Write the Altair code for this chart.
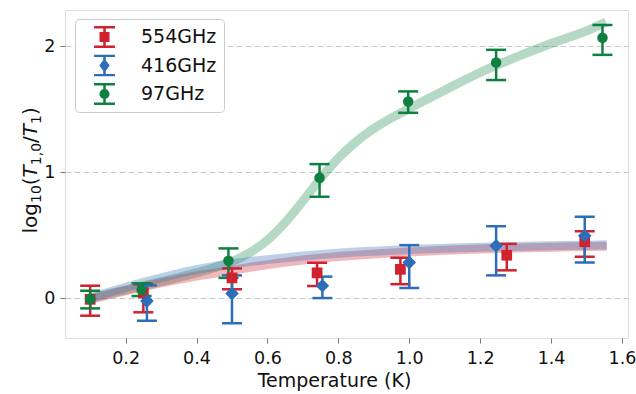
import altair as alt
import pandas as pd

# ---- measured points: temperature (K), log10(T1,0/T1), lower / upper error bounds
t_554 = [0.10, 0.25, 0.50, 0.74, 0.975, 1.275, 1.495]
y_554 = [-0.01, 0.04, 0.16, 0.20, 0.228, 0.34, 0.447]
lo_554 = [-0.14, -0.113, 0.07, 0.095, 0.11, 0.22, 0.328]
hi_554 = [0.098, 0.11, 0.235, 0.28, 0.32, 0.43, 0.53]

t_416 = [0.26, 0.50, 0.755, 1.00, 1.245, 1.495]
y_416 = [-0.024, 0.037, 0.098, 0.283, 0.415, 0.495]
lo_416 = [-0.18, -0.20, 0.00, 0.08, 0.18, 0.283]
hi_416 = [0.10, 0.18, 0.17, 0.42, 0.57, 0.645]

t_97 = [0.10, 0.245, 0.49, 0.747, 0.997, 1.245, 1.545]
y_97 = [-0.008, 0.063, 0.296, 0.955, 1.56, 1.87, 2.066]
lo_97 = [-0.082, 0.016, 0.16, 0.804, 1.47, 1.73, 1.93]
hi_97 = [0.058, 0.117, 0.394, 1.063, 1.64, 1.97, 2.167]

# ---- model curves
fit_t = [0.10, 0.20, 0.30, 0.40, 0.50, 0.60, 0.70, 0.80, 0.90, 1.00,
         1.10, 1.20, 1.30, 1.40, 1.50, 1.557]
fit_554 = [-0.010, 0.058, 0.120, 0.175, 0.220, 0.265, 0.302, 0.330, 0.350, 0.366,
           0.379, 0.389, 0.397, 0.404, 0.409, 0.412]
fit_416 = [0.000, 0.085, 0.160, 0.225, 0.272, 0.305, 0.333, 0.356, 0.372, 0.385,
           0.395, 0.403, 0.410, 0.415, 0.420, 0.423]
fit_97_t = [0.10, 0.20, 0.30, 0.40, 0.45, 0.50, 0.55, 0.60, 0.65, 0.70, 0.75, 0.80,
            0.85, 0.90, 0.95, 1.00, 1.10, 1.20, 1.30, 1.40, 1.50, 1.555]
fit_97 = [0.00, 0.065, 0.13, 0.20, 0.24, 0.29, 0.36, 0.46, 0.60, 0.77, 0.95, 1.11,
          1.24, 1.345, 1.43, 1.505, 1.65, 1.79, 1.91, 2.02, 2.12, 2.19]

series_names = ["554GHz", "416GHz", "97GHz"]
series_colors = ["#d0222f", "#2e6db8", "#0e8040"]

x_ticks = [0.2, 0.4, 0.6, 0.8, 1.0, 1.2, 1.4, 1.6]
y_ticks = [0, 1, 2]

FONT = "DejaVu Sans"

xscale = alt.Scale(domain=[0.029, 1.617], nice=False, zero=False)
yscale = alt.Scale(domain=[-0.317, 2.286], nice=False, zero=False)

xaxis = alt.Axis(values=x_ticks, format=".1f", grid=False, domain=False,
                 tickSize=5, tickColor="#777777", tickWidth=1,
                 labelFontSize=17.5, labelFont=FONT, labelColor="#111111",
                 labelPadding=6, title="Temperature (K)", titleFont=FONT,
                 titleFontSize=19, titleFontWeight="normal", titleColor="#111111",
                 titleX=269, titleY=48, titleBaseline="alphabetic", titleAlign="center")
yaxis = alt.Axis(values=y_ticks, format="d", grid=True, gridDash=[6, 3],
                 gridColor="#c8c8c8", gridWidth=1, domain=False,
                 tickSize=5, tickColor="#777777", tickWidth=1,
                 labelFontSize=17.5, labelFont=FONT, labelColor="#111111",
                 labelPadding=5, title=None)


def X(field):
    return alt.X(field, type="quantitative", scale=xscale, axis=xaxis)


def Y(field):
    return alt.Y(field, type="quantitative", scale=yscale, axis=yaxis)


def fit_layer(ts, vs, color, opacity):
    df = pd.DataFrame({"t": ts, "v": vs})
    return alt.Chart(df).mark_line(color=color, strokeWidth=9, opacity=opacity,
                                   interpolate="monotone").encode(x=X("t"), y=Y("v"))


def bar_layers(ts, ys, los, his, color):
    df = pd.DataFrame({"t": ts, "y": ys, "lo": los, "hi": his})
    base = alt.Chart(df)
    bars = base.mark_rule(color=color, strokeWidth=2.5).encode(
        x=X("t"), y=Y("lo"), y2="hi:Q")
    caps = base.transform_fold(["lo", "hi"], as_=["end", "v"]).mark_tick(
        orient="horizontal", color=color, size=20, thickness=2.5, opacity=1
    ).encode(x=X("t"), y=Y("v"))
    return df, [bars, caps]


def point_layer(df, color, shape, size):
    return alt.Chart(df).mark_point(filled=True, opacity=1, color=color,
                                    shape=shape, size=size).encode(x=X("t"), y=Y("y"))


df554, bars554 = bar_layers(t_554, y_554, lo_554, hi_554, series_colors[0])
df416, bars416 = bar_layers(t_416, y_416, lo_416, hi_416, series_colors[1])
df97, bars97 = bar_layers(t_97, y_97, lo_97, hi_97, series_colors[2])

# legend icons: error bar with caps plus the series marker (unit coordinates)
bar_icon = "M-0.95,-0.88L0.95,-0.88M-0.95,0.88L0.95,0.88M0,-0.88L0,0.88"
legend_shapes = [
    bar_icon + "M-0.34,-0.34L0.34,-0.34L0.34,0.34L-0.34,0.34Z",
    bar_icon + "M0,-0.44L0.33,0L0,0.44L-0.33,0Z",
    bar_icon + "M0.35,0A0.35,0.35,0,1,1,-0.35,0A0.35,0.35,0,1,1,0.35,0Z",
]

legend_def = alt.Legend(orient="none", legendX=10, legendY=9, title=None,
                        symbolSize=484, symbolStrokeWidth=2.5, clipHeight=22,
                        labelFontSize=19, labelFont=FONT, labelColor="#111111",
                        padding=7, rowPadding=6.5, symbolOffset=10, labelOffset=24,
                        fillColor="white", strokeColor="#cccccc", cornerRadius=4,
                        labelLimit=300)

legend_layer = alt.Chart(pd.DataFrame({"series": series_names})).transform_filter(
    "false").mark_point(filled=True, opacity=1).encode(
    color=alt.Color("series:N", scale=alt.Scale(domain=series_names, range=series_colors),
                    legend=legend_def),
    stroke=alt.Stroke("series:N", scale=alt.Scale(domain=series_names, range=series_colors),
                      legend=legend_def),
    shape=alt.Shape("series:N", scale=alt.Scale(domain=series_names, range=legend_shapes),
                    legend=legend_def),
)

# y-axis title log10(T1,0/T1), set piece by piece for sub-scripts and italics
ytitle_parts = [("log", 20, "normal", False), ("10", 14, "normal", True),
                ("(", 20, "normal", False), ("T", 20, "italic", False),
                ("1,0", 14, "normal", True), ("/", 20, "normal", False),
                ("T", 20, "italic", False), ("1", 14, "normal", True),
                (")", 20, "normal", False)]
advance_em = {"l": 0.278, "o": 0.612, "g": 0.635, "1": 0.636, "0": 0.636,
              ",": 0.318, "(": 0.390, ")": 0.390, "/": 0.337, "T": 0.611}
one = pd.DataFrame({"k": [0]})
title_layers = []
pos = 223.5
for txt, fs, style, sub in ytitle_parts:
    title_layers.append(
        alt.Chart(one).mark_text(text=txt, font=FONT, fontSize=fs, fontStyle=style,
                                 angle=270, align="left", baseline="alphabetic",
                                 color="#111111").encode(
            x=alt.value(-24.0 if sub else -28.5), y=alt.value(pos)))
    pos -= sum(advance_em[c] for c in txt) * fs

layers = [
    fit_layer(fit_97_t, fit_97, series_colors[2], 0.3),
    fit_layer(fit_t, fit_554, series_colors[0], 0.32),
    fit_layer(fit_t, fit_416, series_colors[1], 0.32),
    *bars554, *bars416, *bars97,
    point_layer(df554, series_colors[0], "square", 115),
    point_layer(df416, series_colors[1], "diamond", 185),
    point_layer(df97, series_colors[2], "circle", 110),
    legend_layer,
    *title_layers,
]

chart = alt.layer(*layers).properties(
    width=563, height=328,
    autosize=alt.AutoSizeParams(type="none"),
    padding={"left": 65, "top": 10, "right": 8, "bottom": 56},
).configure_view(stroke="black", strokeWidth=4).configure(font=FONT)

chart.save("out.html", embed_options={"renderer": "svg", "actions": False})
